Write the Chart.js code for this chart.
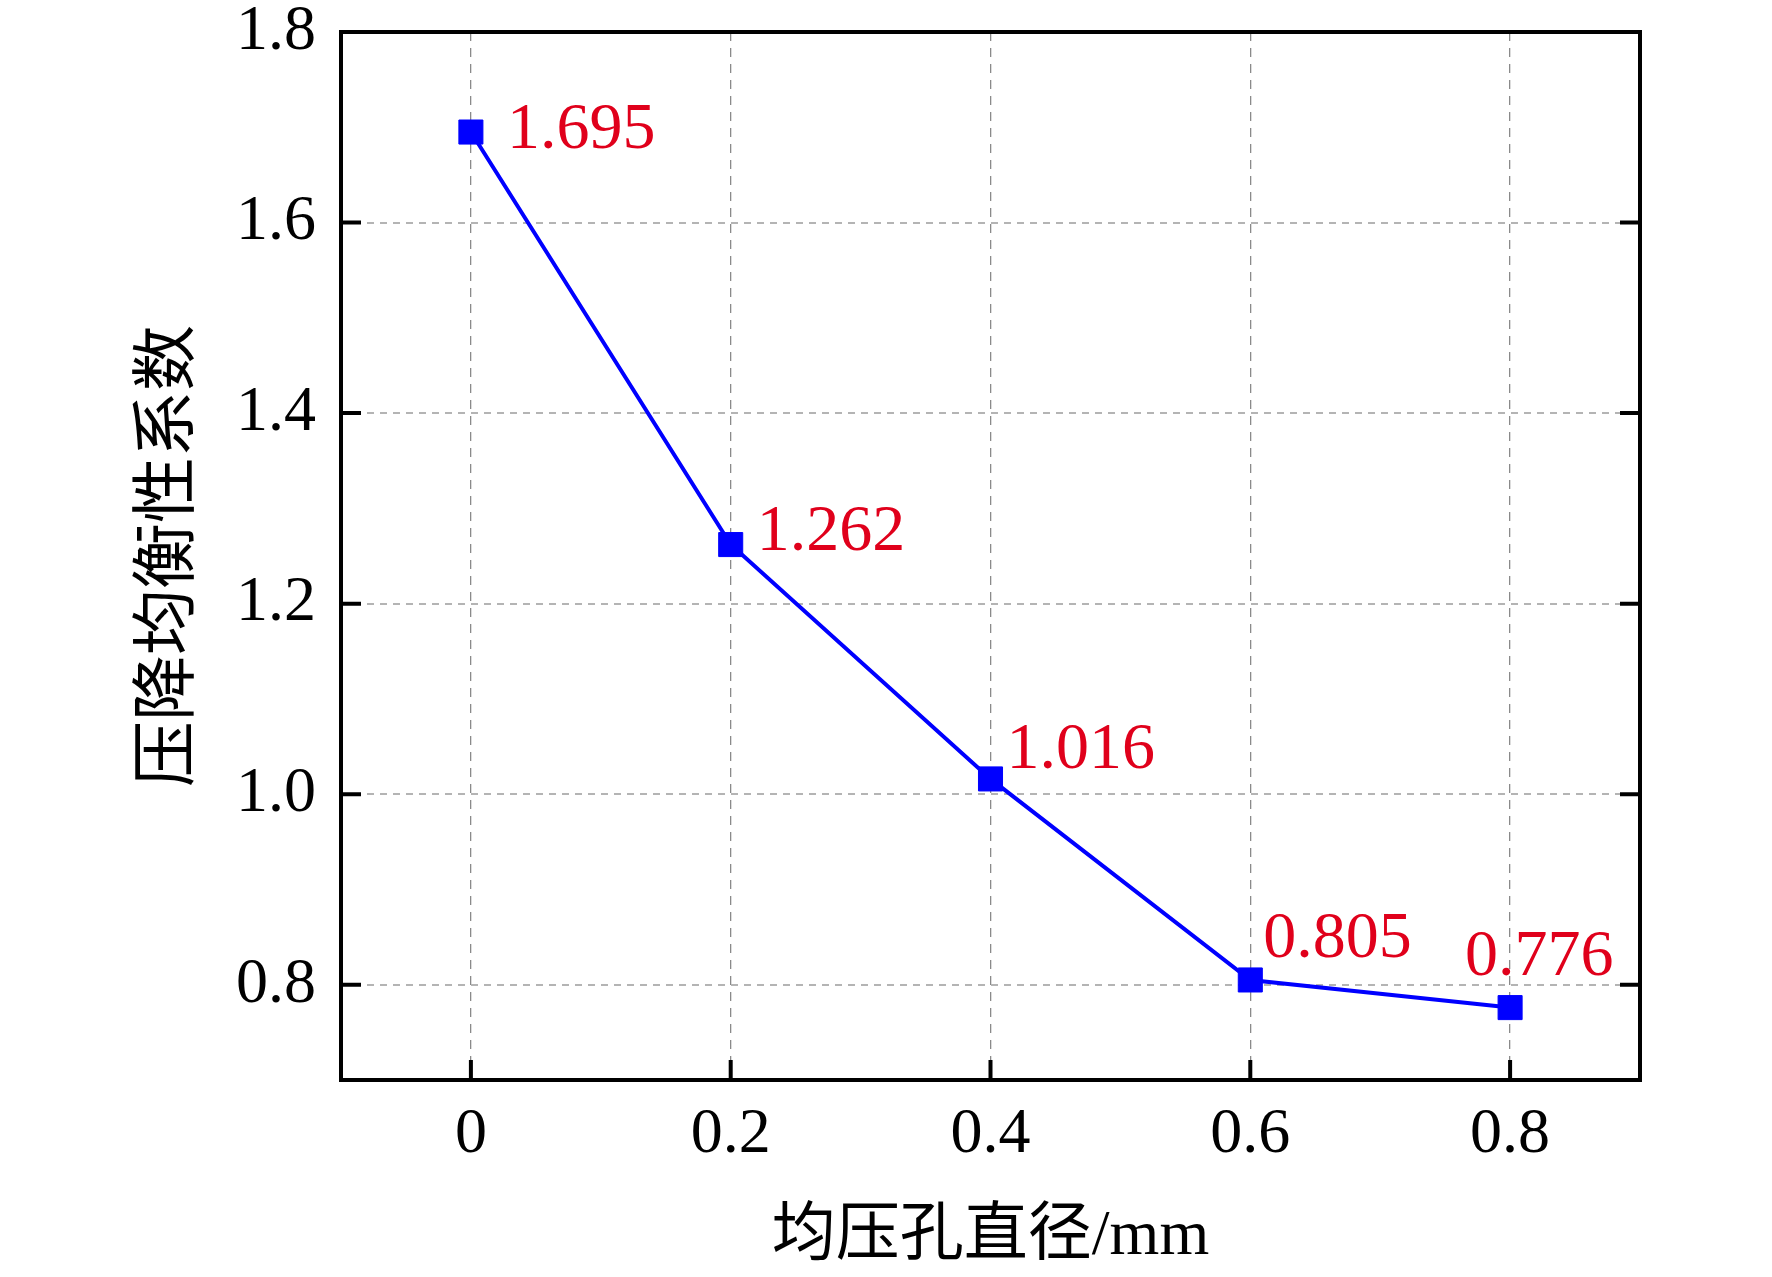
<!DOCTYPE html>
<html lang="zh">
<head>
    <meta charset="UTF-8">
    <title>压降均衡性系数</title>
    <script src="https://cdn.jsdelivr.net/npm/chart.js"></script>
    <style>
        html, body { margin: 0; padding: 0; background: #fff; }
        .wrap { width: 1772px; height: 1277px; position: relative; }
    </style>
</head>
<body>
    <div class="wrap">
        <canvas id="balanceChart"></canvas>
    </div>

    <script>
        // data
        const holeDiameters = [0, 0.2, 0.4, 0.6, 0.8];
        const balanceCoeff = [1.695, 1.262, 1.016, 0.805, 0.776];
        const valueLabels = ['1.695', '1.262', '1.016', '0.805', '0.776'];
        const xTicks = [0, 0.2, 0.4, 0.6, 0.8];
        const yTicks = [0.8, 1.0, 1.2, 1.4, 1.6, 1.8];

        // where each red value label sits relative to its marker (px)
        const labelOffsets = [[36, -1], [26, -12], [16, -28], [13, -40], [-45, -50]];

        const serif = "'Liberation Serif', 'Times New Roman', serif";
        const titleFont = "'Liberation Serif', 'Noto Sans CJK SC', serif";

        // frame, inward ticks and value labels
        const framePlugin = {
            id: 'frame',
            afterDatasetsDraw(chart) {
                const ctx = chart.ctx;
                const meta = chart.getDatasetMeta(0);
                ctx.save();
                ctx.fillStyle = '#e0001b';
                ctx.font = '66px ' + serif;
                ctx.textAlign = 'left';
                ctx.textBaseline = 'middle';
                meta.data.forEach((pt, i) => {
                    const off = labelOffsets[i];
                    ctx.fillText(valueLabels[i], pt.x + off[0], pt.y + off[1]);
                });
                ctx.restore();
            },
            afterDraw(chart) {
                const ctx = chart.ctx;
                const a = chart.chartArea;
                const xs = chart.scales.x;
                const ys = chart.scales.y;
                const len = 20;
                ctx.save();
                ctx.strokeStyle = '#000';
                ctx.lineWidth = 4;
                ctx.beginPath();
                yTicks.forEach(v => {
                    const y = ys.getPixelForValue(v);
                    ctx.moveTo(a.left, y); ctx.lineTo(a.left + len, y);
                    ctx.moveTo(a.right, y); ctx.lineTo(a.right - len, y);
                });
                xTicks.forEach(v => {
                    const x = xs.getPixelForValue(v);
                    ctx.moveTo(x, a.bottom); ctx.lineTo(x, a.bottom - len);
                });
                ctx.stroke();
                ctx.strokeRect(a.left, a.top, a.right - a.left, a.bottom - a.top);
                ctx.restore();
            }
        };

        const ctx = document.getElementById('balanceChart').getContext('2d');
        new Chart(ctx, {
            type: 'line',
            data: {
                labels: holeDiameters,
                datasets: [{
                    data: holeDiameters.map((x, i) => ({ x: x, y: balanceCoeff[i] })),
                    borderColor: '#0000ff',
                    backgroundColor: '#0000ff',
                    borderWidth: 4,
                    pointStyle: 'rect',
                    pointRadius: 17,
                    pointBorderWidth: 1,
                    tension: 0
                }]
            },
            options: {
                responsive: true,
                maintainAspectRatio: false,
                animation: false,
                layout: {
                    padding: { top: 32, right: 132, left: 0, bottom: 0 }
                },
                scales: {
                    x: {
                        type: 'linear',
                        min: -0.1,
                        max: 0.9,
                        afterBuildTicks: function(scale) {
                            scale.ticks = xTicks.map(v => ({ value: v }));
                        },
                        afterFit: function(scale) {
                            scale.height = 197;
                            scale.paddingLeft = 0;
                            scale.paddingRight = 0;
                        },
                        grid: {
                            drawTicks: false,
                            color: '#8a8a8a',
                            lineWidth: 1.3
                        },
                        border: { display: false, dash: [9, 7] },
                        ticks: {
                            padding: 17,
                            color: '#000',
                            maxRotation: 0,
                            font: { family: serif, size: 64, lineHeight: 1.2 },
                            callback: function(value) {
                                return value === 0 ? '0' : value.toFixed(1);
                            }
                        },
                        title: {
                            display: true,
                            text: '均压孔直径/mm',
                            color: '#000',
                            padding: { top: 0, bottom: 8 },
                            font: { family: titleFont, size: 64, lineHeight: 1 }
                        }
                    },
                    y: {
                        type: 'linear',
                        min: 0.7,
                        max: 1.8,
                        afterBuildTicks: function(scale) {
                            scale.ticks = yTicks.map(v => ({ value: v }));
                        },
                        afterFit: function(scale) {
                            scale.width = 341;
                            scale.paddingTop = 0;
                            scale.paddingBottom = 0;
                        },
                        grid: {
                            drawTicks: false,
                            color: '#b4b4b4',
                            lineWidth: 2
                        },
                        border: { display: false, dash: [7, 6] },
                        ticks: {
                            padding: 25,
                            color: '#000',
                            font: { family: serif, size: 64, lineHeight: 1 },
                            callback: function(value) {
                                return value.toFixed(1);
                            }
                        },
                        title: {
                            display: true,
                            text: '压降均衡性系数',
                            color: '#000',
                            padding: { top: 138, bottom: 0 },
                            font: { family: titleFont, size: 66, lineHeight: 1 }
                        }
                    }
                },
                plugins: {
                    legend: { display: false },
                    tooltip: { enabled: false }
                }
            },
            plugins: [framePlugin]
        });
    </script>
</body>
</html>
